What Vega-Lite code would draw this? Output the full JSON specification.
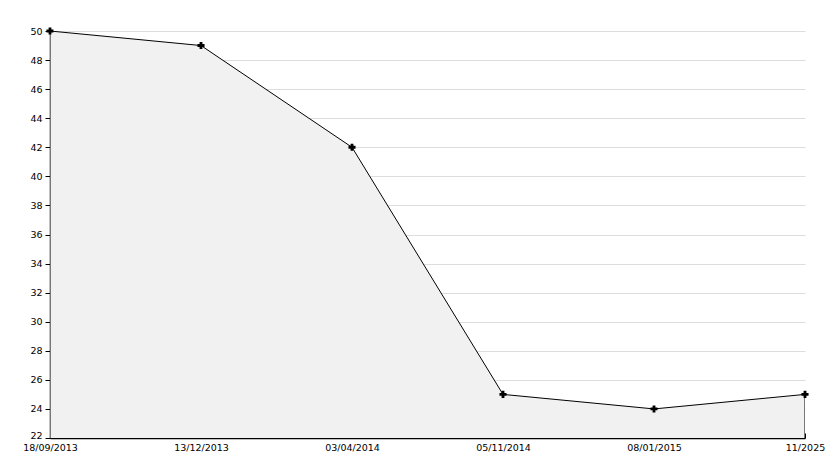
{
  "$schema": "https://vega.github.io/schema/vega-lite/v6.json",
  "width": 755,
  "height": 407,
  "autosize": {"type": "none"},
  "padding": {"left": 50, "top": 31, "right": 29, "bottom": 30},
  "background": "white",
  "config": {
    "view": {"stroke": null},
    "axis": {"labelFont": "DejaVu Sans", "labelFontSize": 9.5, "labelColor": "#000000", "domainColor": "#000000", "tickColor": "#000000"}
  },
  "data": {
    "values": [
      {"date": "18/09/2013", "value": 50},
      {"date": "13/12/2013", "value": 49},
      {"date": "03/04/2014", "value": 42},
      {"date": "05/11/2014", "value": 25},
      {"date": "08/01/2015", "value": 24},
      {"date": "11/2025", "value": 25}
    ]
  },
  "encoding": {
    "x": {
      "field": "date", "type": "ordinal", "sort": null,
      "scale": {"type": "point", "padding": 0},
      "axis": {"title": null, "labelAngle": 0, "tickSize": -5, "labelPadding": 9, "grid": false, "domainWidth": 1.5}
    },
    "y": {
      "field": "value", "type": "quantitative",
      "scale": {"domain": [22, 50], "zero": false, "nice": false},
      "axis": {
        "title": null,
        "values": [22,23,24,25,26,27,28,29,30,31,32,33,34,35,36,37,38,39,40,41,42,43,44,45,46,47,48,49,50],
        "labelExpr": "datum.value % 2 === 0 ? datum.label : ''",
        "labelOffset": {"condition": {"test": "datum.value === 22", "value": -3}, "value": 0},
        "tickSize": {"condition": {"test": "datum.value % 2 === 0", "value": 5}, "value": -4},
        "grid": true,
        "gridColor": "#dddddd",
        "gridOpacity": {"condition": {"test": "datum.value % 2 === 0 && datum.value > 22", "value": 1}, "value": 0},
        "labelPadding": 3,
        "domainWidth": 1.5
      }
    }
  },
  "layer": [
    {"mark": {"type": "area", "fill": "#f1f1f1", "stroke": "#000000", "strokeWidth": 1, "clip": true}},
    {"mark": {"type": "point", "shape": "cross", "filled": true, "color": "#000000", "size": 50, "opacity": 1}}
  ]
}
